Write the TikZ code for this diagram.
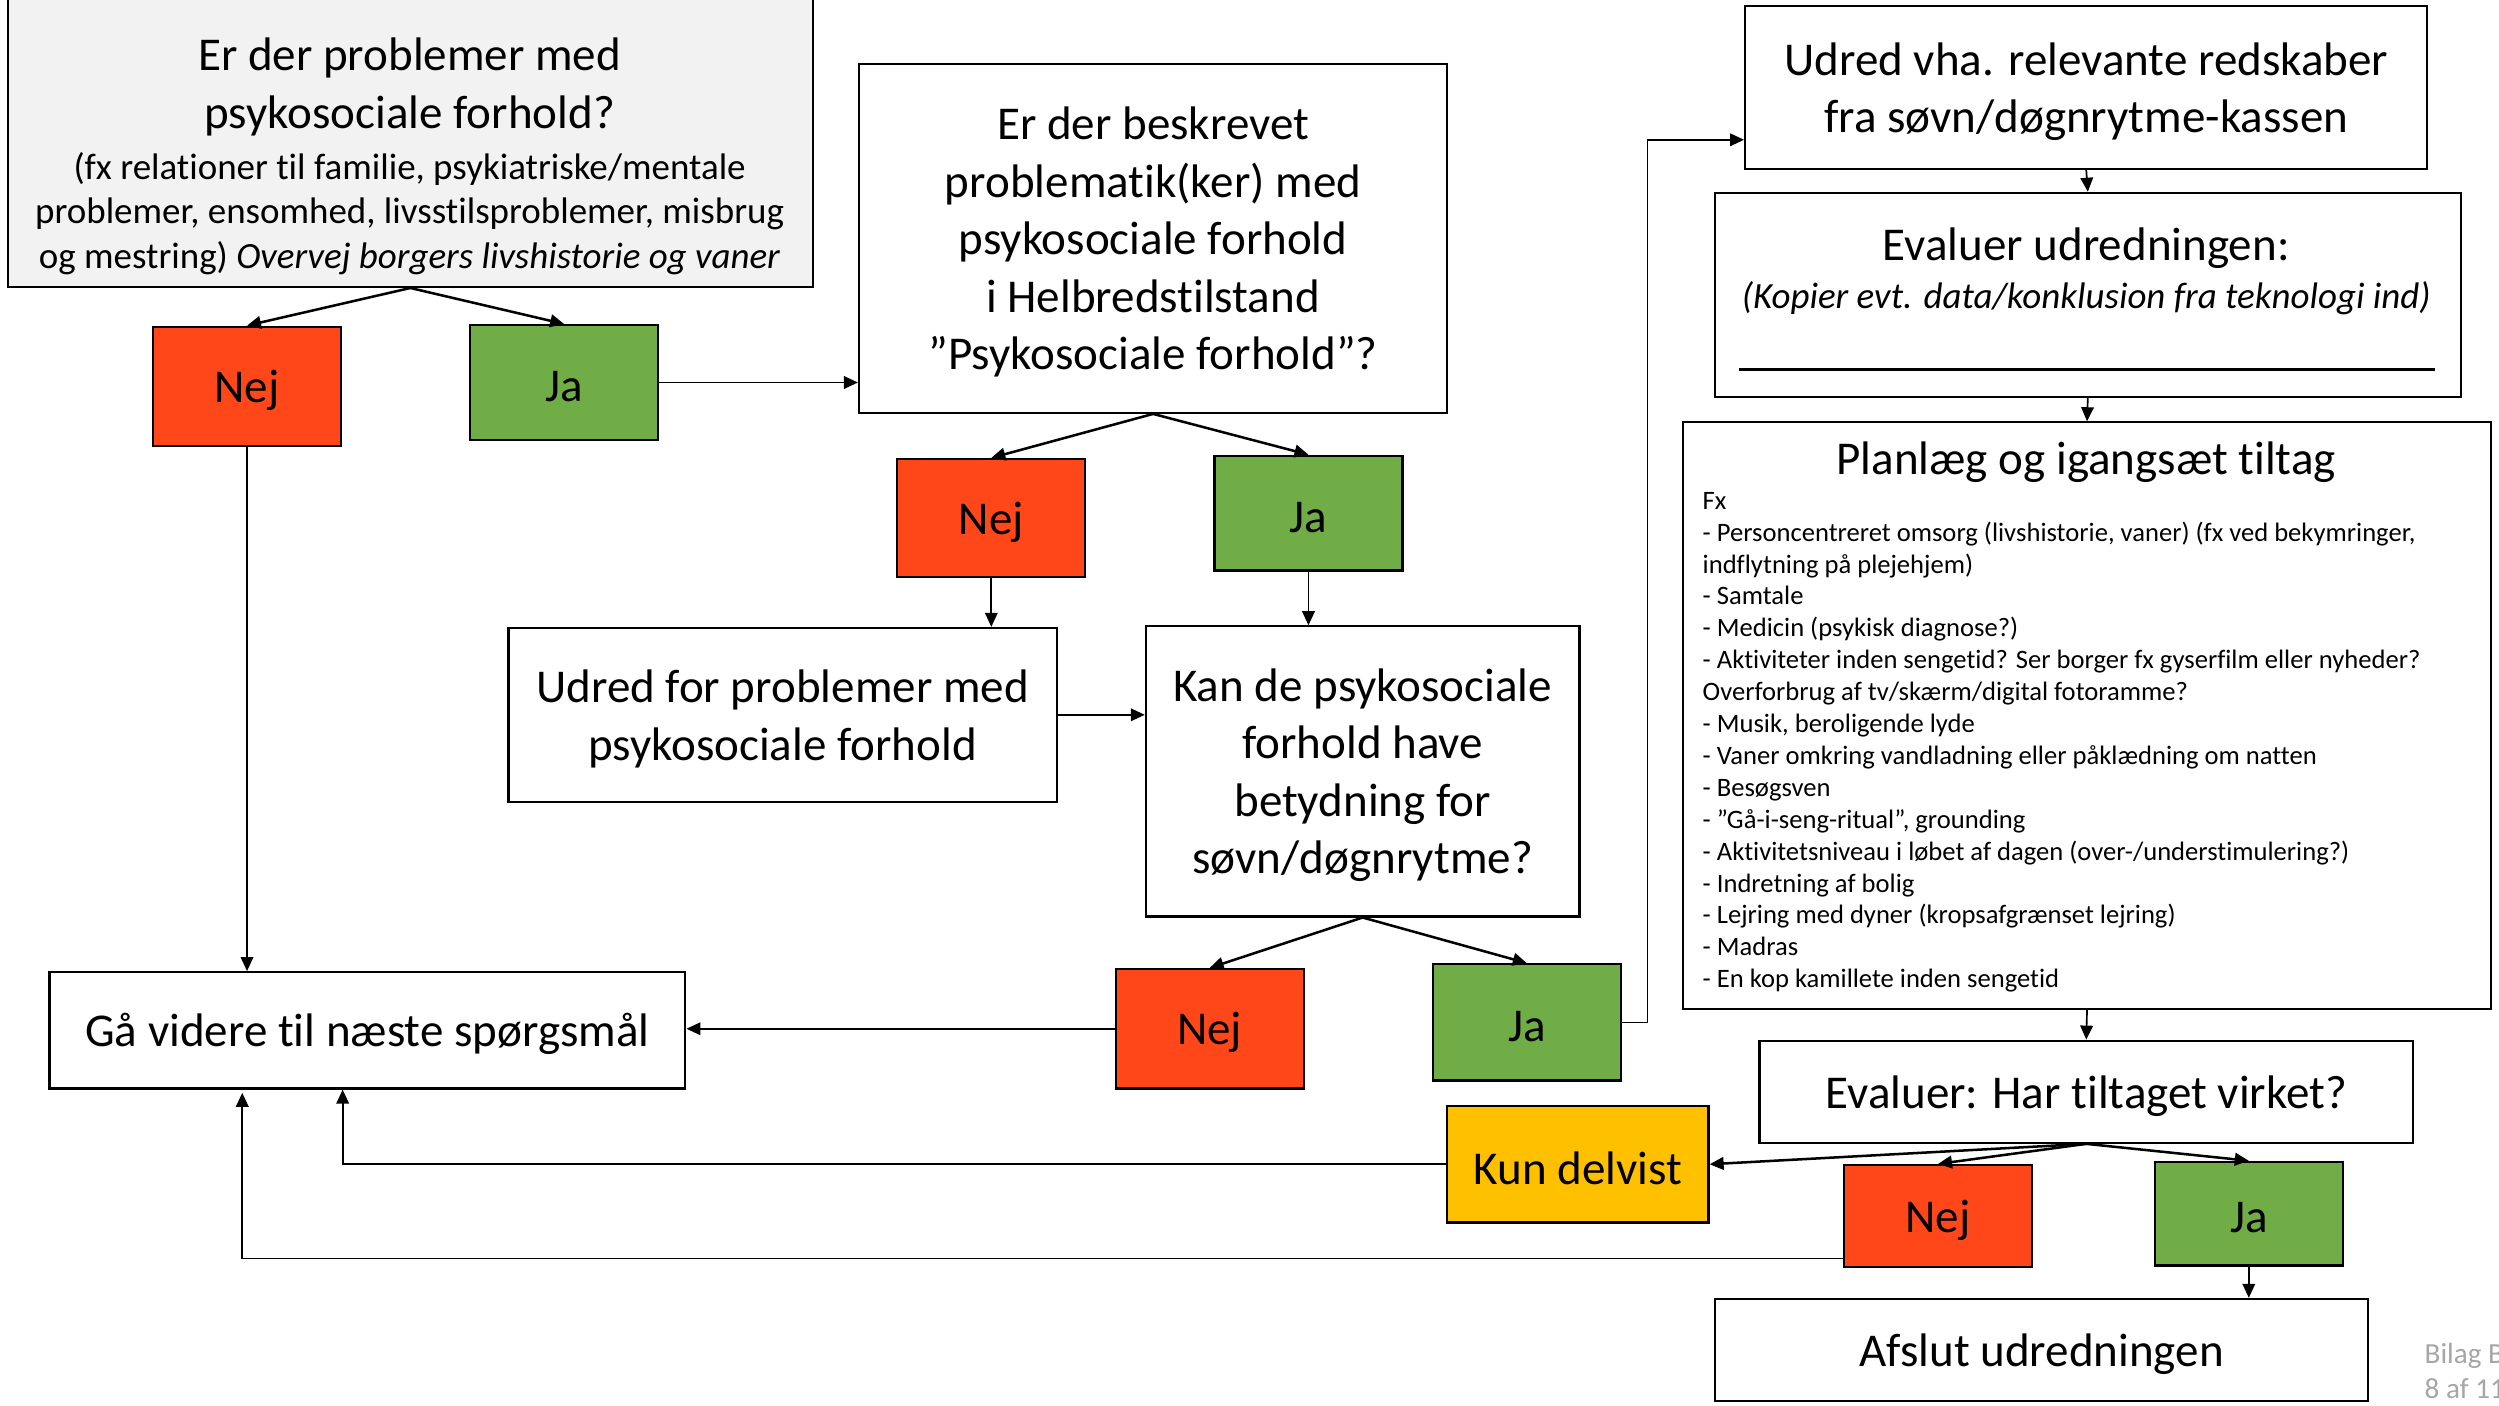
\documentclass[tikz,border=0pt]{standalone}
\usepackage{fontspec}
\setmainfont{Carlito}[Ligatures=NoCommon]
\usetikzlibrary{arrows.meta,calc}
\definecolor{nejred}{HTML}{FF4719}
\definecolor{jagreen}{HTML}{70AD47}
\definecolor{kunyellow}{HTML}{FFC000}
\definecolor{qgrey}{HTML}{F2F2F2}
\definecolor{bilaggrey}{HTML}{A6A6A6}
\newcommand\bx[7]{%
  \pgfmathsetmacro\bcx{(#2+#4)/2}\pgfmathsetmacro\bcy{(#3+#5)/2}%
  \pgfmathsetmacro\bww{(#4-#2)*0.02}\pgfmathsetmacro\bhh{(#5-#3)*0.02}%
  \node[#6, minimum width=\bww cm, minimum height=\bhh cm] (#1) at (\bcx,\bcy) {};
  \node[txt, yshift=-0.05cm] (#1t) at (\bcx,\bcy) {#7};}
\begin{document}
\begin{tikzpicture}[x=0.02cm,y=-0.02cm,
  box/.style={draw=black, line width=0.8pt, fill=white, inner sep=0pt},
  txt/.style={inner sep=0pt, align=center, font=\fontsize{16.8}{20.5}\selectfont},
  greybox/.style={box, fill=qgrey},
  nejbox/.style={box, fill=nejred},
  jabox/.style={box, fill=jagreen},
  kunbox/.style={box, fill=kunyellow},
  arr/.style={-{Triangle[length=5pt,width=4.5pt]}, line width=0.9pt},
  thinarr/.style={-{Triangle[length=5pt,width=4.5pt]}, line width=0.6pt},
  smalltxt/.style={inner sep=0pt, font=\fontsize{13.2}{15.9}\selectfont},
  listtxt/.style={font=\fontsize{9.5}{11.39}\selectfont, align=left, inner sep=0pt}
]
\useasboundingbox (0,0) rectangle (1568,882);

% boxes
\bx{q1}{5}{-2}{510}{180}{greybox}{}
\node[txt] (q1text) at (257,98) {Er der problemer med\\psykosociale forhold?\\[-2.3pt]
  \fontsize{13.2}{15.9}\selectfont (fx relationer til familie, psykiatriske/mentale\\[-4.6pt]
  \fontsize{13.2}{15.9}\selectfont problemer, ensomhed, livsstilsproblemer, misbrug\\[-4.6pt]
  \fontsize{13.2}{15.9}\selectfont og mestring) \textit{Overvej borgers livshistorie og vaner}};
\bx{nej1}{96}{205}{214}{280}{nejbox}{Nej}
\bx{ja1}{295}{204}{413}{276}{jabox}{Ja}
\bx{q2}{539}{40}{908}{259}{box}{Er der beskrevet\\problematik(ker) med\\psykosociale forhold\\i Helbredstilstand\\”Psykosociale forhold”?}
\bx{nej2}{563}{288}{681}{362}{nejbox}{Nej}
\bx{ja2}{762}{286}{880}{358}{jabox}{Ja}
\bx{u1}{319}{394}{663}{503}{box}{Udred for problemer med\\psykosociale forhold}
\bx{q3}{719}{393}{991}{575}{box}{Kan de psykosociale\\forhold have\\betydning for\\søvn/døgnrytme?}
\bx{nej3}{700}{608}{818}{683}{nejbox}{Nej}
\bx{ja3}{899}{605}{1017}{678}{jabox}{Ja}
\bx{g}{31}{610}{430}{683}{box}{Gå videre til næste spørgsmål}
\bx{u2}{1095}{4}{1523}{106}{box}{Udred vha. relevante redskaber\\fra søvn/døgnrytme-kassen}
\bx{e1}{1076}{121}{1544}{249}{box}{}
\node[txt] (e1title) at (1309,156) {Evaluer udredningen:};
\node[smalltxt] (e1sub) at (1309,187) {\textit{(Kopier evt. data/konklusion fra teknologi ind)}};
\draw[line width=1pt] (1091,232) -- (1528,232);
\bx{p}{1056}{265}{1563}{633}{box}{}
\node[txt] (ptitle) at (1309,290) {Planlæg og igangsæt tiltag};
\node[listtxt, anchor=north west] (plist) at (1068,308.5) {Fx\\
- Personcentreret omsorg (livshistorie, vaner) (fx ved bekymringer,\\
indflytning på plejehjem)\\
- Samtale\\
- Medicin (psykisk diagnose?)\\
- Aktiviteter inden sengetid? Ser borger fx gyserfilm eller nyheder?\\
Overforbrug af tv/skærm/digital fotoramme?\\
- Musik, beroligende lyde\\
- Vaner omkring vandladning eller påklædning om natten\\
- Besøgsven\\
- ”Gå-i-seng-ritual”, grounding\\
- Aktivitetsniveau i løbet af dagen (over-/understimulering?)\\
- Indretning af bolig\\
- Lejring med dyner (kropsafgrænset lejring)\\
- Madras\\
- En kop kamillete inden sengetid};
\bx{e2}{1104}{653}{1514}{717}{box}{Evaluer: Har tiltaget virket?}
\bx{kun}{908}{694}{1072}{767}{kunbox}{Kun delvist}
\bx{nej4}{1157}{731}{1275}{795}{nejbox}{Nej}
\bx{ja4}{1352}{729}{1470}{794}{jabox}{Ja}
\bx{afs}{1076}{815}{1486}{879}{box}{Afslut udredningen}
\node[font=\fontsize{10.4}{12.5}\selectfont, text=bilaggrey, anchor=west, align=left, inner sep=0pt] (bilag) at (1521,860) {Bilag B\\8 af 11};

% connectors
\draw[arr] (q1.south) -- (nej1.north);
\draw[arr] (q1.south) -- (ja1.north);
\draw[thinarr] (ja1.east) -- (ja1.east -| q2.west);
\draw[arr] (q2.south) -- (nej2.north);
\draw[arr] (q2.south) -- (ja2.north);
\draw[thinarr] (nej2.south) -- (nej2.south |- u1.north);
\draw[thinarr] (ja2.south) -- (ja2.south |- q3.north);
\draw[thinarr] (u1.east) -- (u1.east -| q3.west);
\draw[arr] (q3.south) -- (nej3.north);
\draw[arr] (q3.south) -- (ja3.north);
\draw[thinarr] (nej1.south) -- (nej1.south |- g.north);
\draw[thinarr] (nej3.west) -- (nej3.west -| g.east);
\draw[thinarr] (ja3.east) -- ++(16,0) |- ([yshift=0.38cm]u2.south west);
\draw[thinarr] (u2.south) -- (e1.north);
\draw[thinarr] (e1.south) -- (p.north);
\draw[thinarr] (p.south) -- (e2.north);
\draw[arr] (e2.south) -- (kun.east);
\draw[arr] (e2.south) -- (nej4.north);
\draw[arr] (e2.south) -- (ja4.north);
\draw[thinarr] (ja4.south) -- (ja4.south |- afs.north);
\draw[thinarr] (kun.west) -| ([xshift=-0.31cm]g.south);
\draw[thinarr] ([yshift=0.12cm]nej4.south west) -| ([xshift=-1.57cm,yshift=-0.04cm]g.south);
\end{tikzpicture}
\end{document}
